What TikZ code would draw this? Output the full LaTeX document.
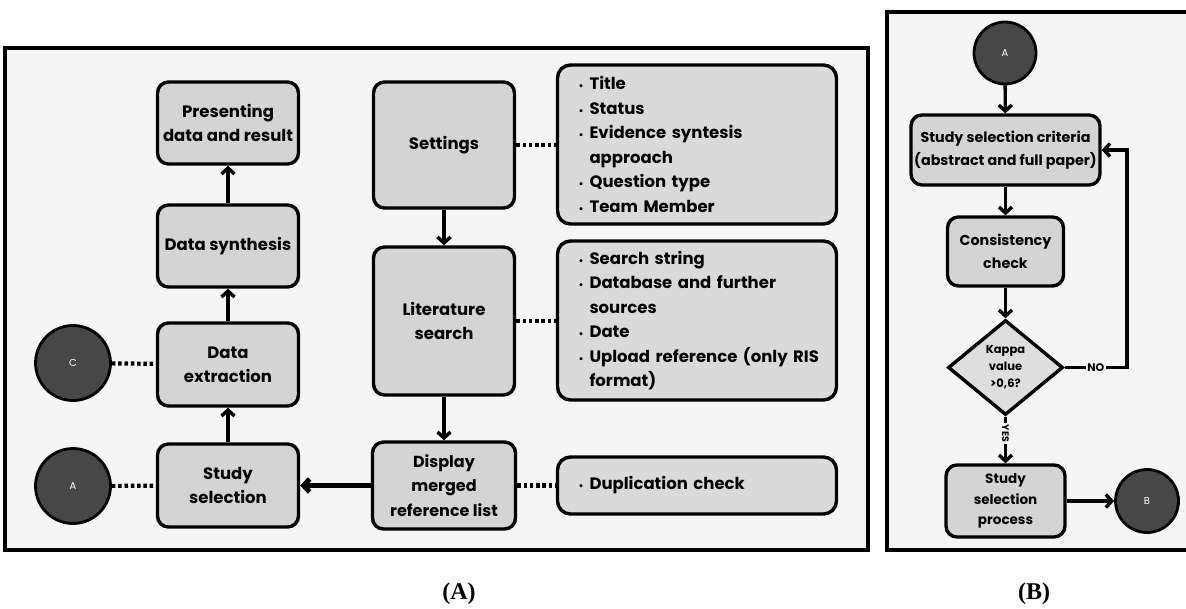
\documentclass[tikz,border=0pt]{standalone}
\usepackage{fontspec}
\setmainfont{Poppins}
\newfontfamily\capfont{Liberation Serif}
\usetikzlibrary{positioning}
\usetikzlibrary{shapes.geometric}
\usetikzlibrary{arrows.meta}
\definecolor{panelbg}{HTML}{F5F5F5}
\definecolor{boxgray}{HTML}{D4D4D4}
\definecolor{listgray}{HTML}{DADADA}
\definecolor{kappagray}{HTML}{DEDEDE}
\definecolor{circgray}{HTML}{474747}
\newcommand{\lbul}{\hspace*{21pt}\makebox[11pt][l]{\fontsize{10}{10}\selectfont\textbullet}}
\newcommand{\lcont}{\hspace*{32pt}}

\tikzset{
    panel/.style={fill=panelbg,line width=4.5pt},
    stepbox/.style={draw,line width=3.4pt,rounded corners=11pt,fill=boxgray,align=center,
        inner sep=0pt,font=\bfseries\fontsize{16.5}{24}\selectfont},
    listbox/.style={draw,line width=3.4pt,rounded corners=13pt,fill=listgray,align=left,
        inner sep=0pt,text width=279pt,minimum height=#1,
        font=\bfseries\fontsize{16.5}{24.5}\selectfont},
    conn/.style={draw,circle,line width=2.8pt,fill=circgray,text=white,inner sep=0pt,
        minimum size=#1,font=\fontsize{10}{10}\selectfont},
    flow/.style={line width=3.4pt,-{Straight Barb[length=6pt,width=13pt]}},
    dotlink/.style={line width=4.2pt,dash pattern=on 3.5pt off 2.8pt},
}

\begin{document}
\begin{tikzpicture}[x=1pt,y=-1pt]
    \useasboundingbox (0,0) rectangle (1186,608);

    % panel frames
    \draw[panel] (5,48) rectangle (868,550);
    \fill[panelbg] (887,12) rectangle (1186,550);
    \draw[line width=4.5pt] (1190,12) -- (887,12) -- (887,550) -- (1190,550);

    %% (A)
    \node[stepbox,minimum width=141pt,minimum height=82pt] (pres) at (228,123) {Presenting\\data and result};
    \node[stepbox,minimum width=141pt,minimum height=82pt] (synth) at (228,246) {Data synthesis};
    \node[stepbox,minimum width=141pt,minimum height=83pt] (extr) at (228,364.5) {Data\\extraction};
    \node[stepbox,minimum width=141pt,minimum height=83pt] (studysel) at (228,485.5) {Study\\selection};

    \node[stepbox,minimum width=141pt,minimum height=126pt] (settings) at (444,145) {Settings};
    \node[stepbox,minimum width=141pt,minimum height=148pt] (litsearch) at (444,321) {Literature\\search};
    \node[stepbox,minimum width=143pt,minimum height=87pt,font=\bfseries\fontsize{16}{24.5}\selectfont] (display) at (444,485.5) {Display\\merged\\reference list};

    \node[listbox=159pt] (setlist) at (697,144.5) {\lbul Title\\ \lbul Status\\ \lbul Evidence syntesis\\ \lcont approach\\ \lbul Question type\\ \lbul Team Member};
    \node[listbox=159pt] (litlist) at (697,320.5) {\lbul Search string\\ \lbul Database and further\\ \lcont sources\\ \lbul Date\\ \lbul Upload reference (only RIS\\ \lcont format)};
    \node[listbox=57pt] (duplist) at (697,485.5) {\lbul Duplication check};

    \node[conn=75pt] (circC) at (73,363) {C};
    \node[conn=75pt] (circA) at (73,486) {A};

    \draw[flow] (synth) -- (pres);
    \draw[flow] (extr) -- (synth);
    \draw[flow] (studysel) -- (extr);
    \draw[flow] (settings) -- (litsearch);
    \draw[flow] (litsearch) -- (display);
    \draw[flow,line width=5pt] (display) -- (studysel);

    \draw[dotlink] (settings) -- (settings -| setlist.west);
    \draw[dotlink] (litsearch) -- (litsearch -| litlist.west);
    \draw[dotlink] (display) -- (duplist);
    \draw[dotlink] (circC) -- (extr);
    \draw[dotlink] (circA) -- (studysel);

    \node[font=\capfont\bfseries\fontsize{24}{24}\selectfont] (capA) at (459,594) {(A)};

    %% (B)
    \node[conn=62pt] (startA) at (1005,53) {A};
    \node[stepbox,minimum width=189pt,minimum height=70pt,font=\bfseries\fontsize{14.3}{23}\selectfont] (crit) at (1005.5,150) {Study selection criteria\\(abstract and full paper)};
    \node[stepbox,minimum width=116pt,minimum height=69pt,font=\bfseries\fontsize{14.3}{23}\selectfont] (cons) at (1005.5,251.5) {Consistency\\check};
    \node[draw,diamond,line width=3.4pt,fill=kappagray,inner sep=0pt,minimum width=115pt,minimum height=95pt,
        align=center,font=\bfseries\fontsize{11.5}{17}\selectfont] (kappa) at (1005.5,367.5) {Kappa\\value\\>0,6?};
    \node[stepbox,minimum width=119pt,minimum height=72pt,font=\bfseries\fontsize{13.5}{20.5}\selectfont] (proc) at (1005.5,501) {Study\\selection\\process};
    \node[conn=63pt] (endB) at (1147,501) {B};
    \coordinate (loopR) at (1127,367.5);

    \draw[flow] (startA) -- (crit);
    \draw[flow] (crit) -- (cons);
    \draw[flow] (cons) -- (kappa);
    \draw[flow] (kappa) -- node[pos=0.36,fill=panelbg,rotate=-90,inner sep=1.5pt,font=\bfseries\fontsize{9.5}{9.5}\selectfont] {YES} (proc);
    \draw[flow] (proc) -- (endB);
    \draw[flow] (kappa.east) -- node[fill=panelbg,inner sep=1.5pt,font=\bfseries\fontsize{11}{11}\selectfont] {NO} (loopR) |- (crit.east);

    \node[font=\capfont\bfseries\fontsize{24}{24}\selectfont] (capB) at (1034,594) {(B)};
\end{tikzpicture}
\end{document}
